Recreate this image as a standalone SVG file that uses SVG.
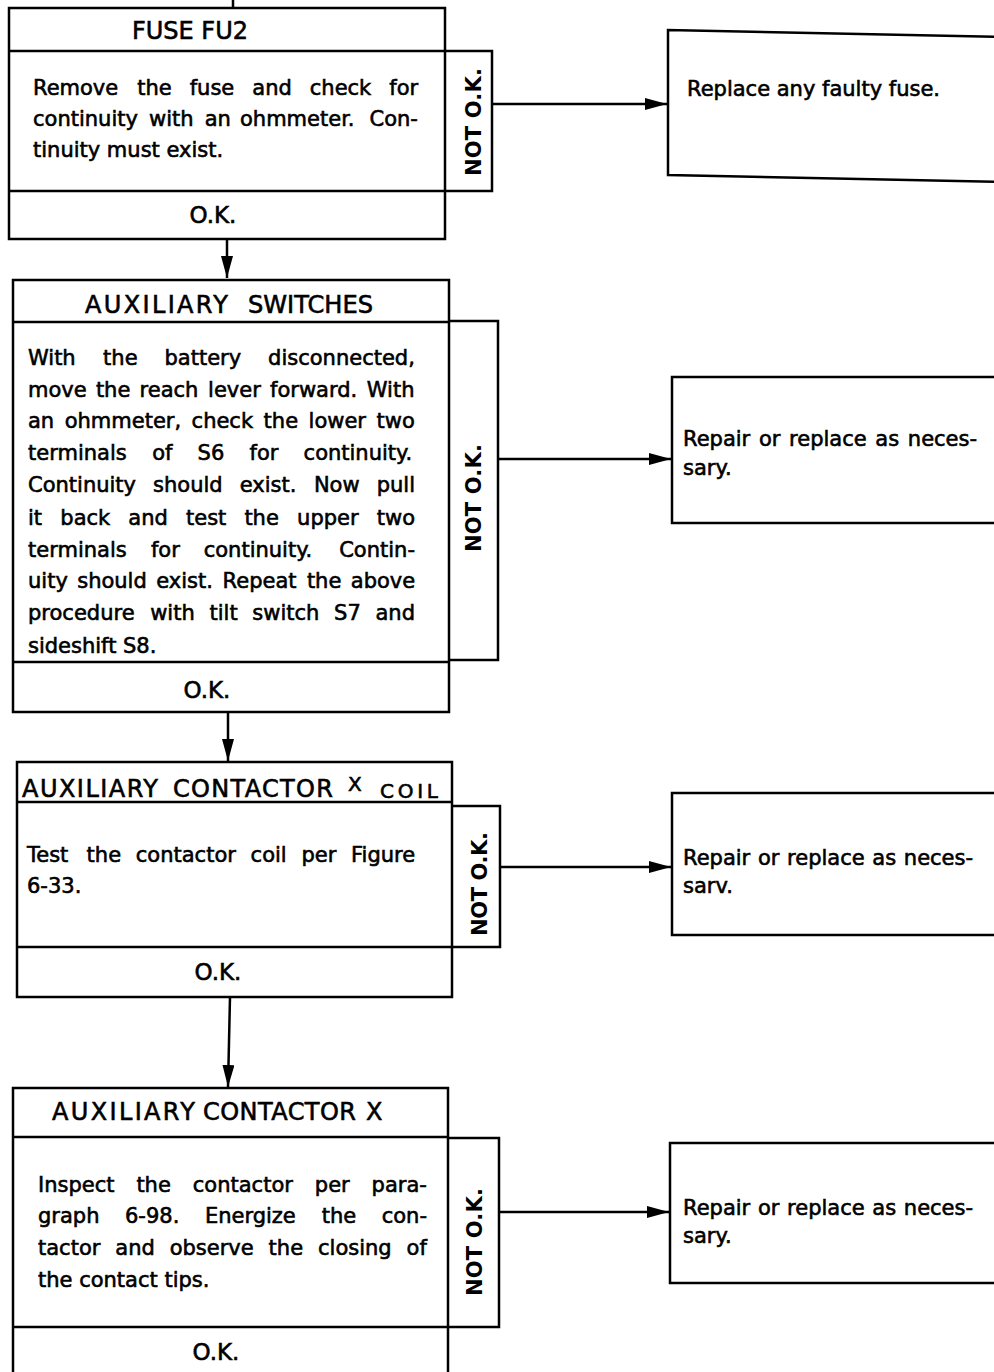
<svg xmlns="http://www.w3.org/2000/svg" width="994" height="1372" viewBox="0 0 994 1372">
<style>
.bx{fill:none;stroke:#000;stroke-width:2.5}
.t{font-family:"DejaVu Sans","Liberation Sans",sans-serif;font-size:21px;fill:#000;stroke:#000;stroke-width:0.6}
.h{font-size:24px}
.ok{font-size:23px;text-anchor:middle}
.nok{font-family:"DejaVu Sans","Liberation Sans",sans-serif;font-weight:bold;font-size:21px;text-anchor:middle;fill:#000}
.conn{stroke:#000;stroke-width:2.5;fill:none}
</style>
<defs>
<marker id="ah" markerUnits="userSpaceOnUse" viewBox="0 0 22 12" refX="22" refY="6" markerWidth="22" markerHeight="12" orient="auto">
<path d="M0,0 L22,6 L0,12 z" fill="#000"/>
</marker>
</defs>
<rect width="994" height="1372" fill="#fff"/>

<g id="fuse-fu2">
<rect class="bx" x="9" y="8" width="436" height="231"/>
<line class="bx" x1="9" y1="51" x2="445" y2="51"/>
<line class="bx" x1="9" y1="191" x2="445" y2="191"/>
<path class="bx" d="M445,51 H492 V191 H445"/>
<text class="t h" x="132" y="39" textLength="116" lengthAdjust="spacing">FUSE FU2</text>
<text class="t"><tspan x="33" y="95">Remove</tspan><tspan x="137.2" y="95">the</tspan><tspan x="189.7" y="95">fuse</tspan><tspan x="252.3" y="95">and</tspan><tspan x="309.8" y="95">check</tspan><tspan x="389.3" y="95">for</tspan></text>
<text class="t"><tspan x="33" y="126">continuity</tspan><tspan x="149" y="126">with</tspan><tspan x="204.7" y="126">an</tspan><tspan x="240" y="126">ohmmeter.</tspan><tspan x="369.5" y="126">Con-</tspan></text>
<text class="t" x="33" y="157">tinuity must exist.</text>
<text class="t ok" x="213" y="223">O.K.</text>
<text class="nok" transform="translate(473,122) rotate(-90)" y="7.5" textLength="108" lengthAdjust="spacing">NOT O.K.</text>
</g>

<g id="auxiliary-switches">
<rect class="bx" x="13" y="280" width="436" height="432"/>
<line class="bx" x1="13" y1="322" x2="449" y2="322"/>
<line class="bx" x1="13" y1="662" x2="449" y2="662"/>
<path class="bx" d="M449,321 H498 V660 H449"/>
<text class="t h" x="85" y="313" textLength="143" lengthAdjust="spacing">AUXILIARY</text>
<text class="t h" x="248" y="313" textLength="125" lengthAdjust="spacingAndGlyphs">SWITCHES</text>
<text class="t"><tspan x="28" y="365">With</tspan><tspan x="103.1" y="365">the</tspan><tspan x="164.5" y="365">battery</tspan><tspan x="268.1" y="365">disconnected,</tspan></text>
<text class="t"><tspan x="28" y="397">move</tspan><tspan x="95.9" y="397">the</tspan><tspan x="139.6" y="397">reach</tspan><tspan x="208.1" y="397">lever</tspan><tspan x="270" y="397">forward.</tspan><tspan x="366.8" y="397">With</tspan></text>
<text class="t"><tspan x="28" y="428">an</tspan><tspan x="64.7" y="428">ohmmeter,</tspan><tspan x="191.6" y="428">check</tspan><tspan x="263.6" y="428">the</tspan><tspan x="308.6" y="428">lower</tspan><tspan x="376.5" y="428">two</tspan></text>
<text class="t"><tspan x="28" y="460">terminals</tspan><tspan x="152.2" y="460">of</tspan><tspan x="197.6" y="460">S6</tspan><tspan x="249.5" y="460">for</tspan><tspan x="303.6" y="460">continuity.</tspan></text>
<text class="t"><tspan x="28" y="492">Continuity</tspan><tspan x="153.1" y="492">should</tspan><tspan x="239.8" y="492">exist.</tspan><tspan x="313.9" y="492">Now</tspan><tspan x="376.7" y="492">pull</tspan></text>
<text class="t"><tspan x="28" y="525">it</tspan><tspan x="60.3" y="525">back</tspan><tspan x="128.3" y="525">and</tspan><tspan x="186" y="525">test</tspan><tspan x="244.4" y="525">the</tspan><tspan x="297.1" y="525">upper</tspan><tspan x="376.8" y="525">two</tspan></text>
<text class="t"><tspan x="28" y="557">terminals</tspan><tspan x="150.9" y="557">for</tspan><tspan x="203.7" y="557">continuity.</tspan><tspan x="339.2" y="557">Contin-</tspan></text>
<text class="t"><tspan x="28" y="588">uity</tspan><tspan x="77.2" y="588">should</tspan><tspan x="156.2" y="588">exist.</tspan><tspan x="222.6" y="588">Repeat</tspan><tspan x="306.9" y="588">the</tspan><tspan x="350.8" y="588">above</tspan></text>
<text class="t"><tspan x="28" y="620">procedure</tspan><tspan x="150.2" y="620">with</tspan><tspan x="209.5" y="620">tilt</tspan><tspan x="252.3" y="620">switch</tspan><tspan x="334.1" y="620">S7</tspan><tspan x="375.5" y="620">and</tspan></text>
<text class="t" x="28" y="653">sideshift S8.</text>
<text class="t ok" x="207" y="698">O.K.</text>
<text class="nok" transform="translate(473,498) rotate(-90)" y="7.5" textLength="108" lengthAdjust="spacing">NOT O.K.</text>
</g>

<g id="auxiliary-contactor-x-coil">
<rect class="bx" x="17" y="762" width="435" height="235"/>
<line class="bx" x1="17" y1="802" x2="452" y2="802"/>
<line class="bx" x1="17" y1="947" x2="452" y2="947"/>
<path class="bx" d="M452,806 H500 V947 H452"/>
<text class="t h" x="22" y="797" textLength="136" lengthAdjust="spacing">AUXILIARY</text>
<text class="t h" x="173" y="797" textLength="160" lengthAdjust="spacing">CONTACTOR</text>
<text class="t" x="348" y="791" style="font-size:20px">X</text>
<text class="t" x="380" y="798" textLength="58" lengthAdjust="spacing" style="font-size:20px">COIL</text>
<text class="t"><tspan x="27" y="862">Test</tspan><tspan x="86.6" y="862">the</tspan><tspan x="135.8" y="862">contactor</tspan><tspan x="250.6" y="862">coil</tspan><tspan x="301.4" y="862">per</tspan><tspan x="351" y="862">Figure</tspan></text>
<text class="t" x="27" y="893">6-33.</text>
<text class="t ok" x="218" y="980">O.K.</text>
<text class="nok" transform="translate(479,884) rotate(-90)" y="7.5" textLength="104" lengthAdjust="spacing">NOT O.K.</text>
</g>

<g id="auxiliary-contactor-x">
<rect class="bx" x="13" y="1088" width="435" height="300"/>
<line class="bx" x1="13" y1="1137" x2="448" y2="1137"/>
<line class="bx" x1="13" y1="1327" x2="448" y2="1327"/>
<path class="bx" d="M448,1138 H499 V1327 H448"/>
<text class="t h" x="52" y="1120" textLength="143" lengthAdjust="spacing">AUXILIARY</text>
<text class="t h" x="203" y="1120" textLength="153" lengthAdjust="spacing">CONTACTOR</text>
<text class="t h" x="366" y="1120">X</text>
<text class="t"><tspan x="38" y="1192">Inspect</tspan><tspan x="136.4" y="1192">the</tspan><tspan x="192.8" y="1192">contactor</tspan><tspan x="314.8" y="1192">per</tspan><tspan x="371.6" y="1192">para-</tspan></text>
<text class="t"><tspan x="38" y="1223">graph</tspan><tspan x="125" y="1223">6-98.</tspan><tspan x="204.9" y="1223">Energize</tspan><tspan x="321.7" y="1223">the</tspan><tspan x="381.7" y="1223">con-</tspan></text>
<text class="t"><tspan x="38" y="1255">tactor</tspan><tspan x="115.3" y="1255">and</tspan><tspan x="169.7" y="1255">observe</tspan><tspan x="268.6" y="1255">the</tspan><tspan x="318" y="1255">closing</tspan><tspan x="406.6" y="1255">of</tspan></text>
<text class="t" x="38" y="1287">the contact tips.</text>
<text class="t ok" x="216" y="1360">O.K.</text>
<text class="nok" transform="translate(474,1242) rotate(-90)" y="7.5" textLength="108" lengthAdjust="spacing">NOT O.K.</text>
</g>

<g id="replace-fuse">
<path class="bx" d="M1000,37 L668,30 L668,175 L1000,182"/>
<text class="t" x="687" y="96">Replace any faulty fuse.</text>
</g>

<g id="repair-switches">
<path class="bx" d="M1000,377 H672 V523 H1000"/>
<text class="t" x="683" y="446" style="word-spacing:2px">Repair or replace as neces-</text>
<text class="t" x="683" y="475">sary.</text>
</g>

<g id="repair-coil">
<path class="bx" d="M1000,793 H672 V935 H1000"/>
<text class="t" x="683" y="865" style="word-spacing:1px">Repair or replace as neces-</text>
<text class="t" x="683" y="893">sarv.</text>
</g>

<g id="repair-contactor">
<path class="bx" d="M1000,1143 H670 V1283 H1000"/>
<text class="t" x="683" y="1215" style="word-spacing:1px">Repair or replace as neces-</text>
<text class="t" x="683" y="1243">sary.</text>
</g>

<g id="connectors">
<path class="conn" d="M233,0 V8"/>
<path class="conn" d="M227,239 V278" marker-end="url(#ah)"/>
<path class="conn" d="M228,712 V761" marker-end="url(#ah)"/>
<path class="conn" d="M230,997 L228,1087" marker-end="url(#ah)"/>
<path class="conn" d="M492,104 H667" marker-end="url(#ah)"/>
<path class="conn" d="M498,459 H671" marker-end="url(#ah)"/>
<path class="conn" d="M500,867 H671" marker-end="url(#ah)"/>
<path class="conn" d="M499,1212 H669" marker-end="url(#ah)"/>
</g>
</svg>
